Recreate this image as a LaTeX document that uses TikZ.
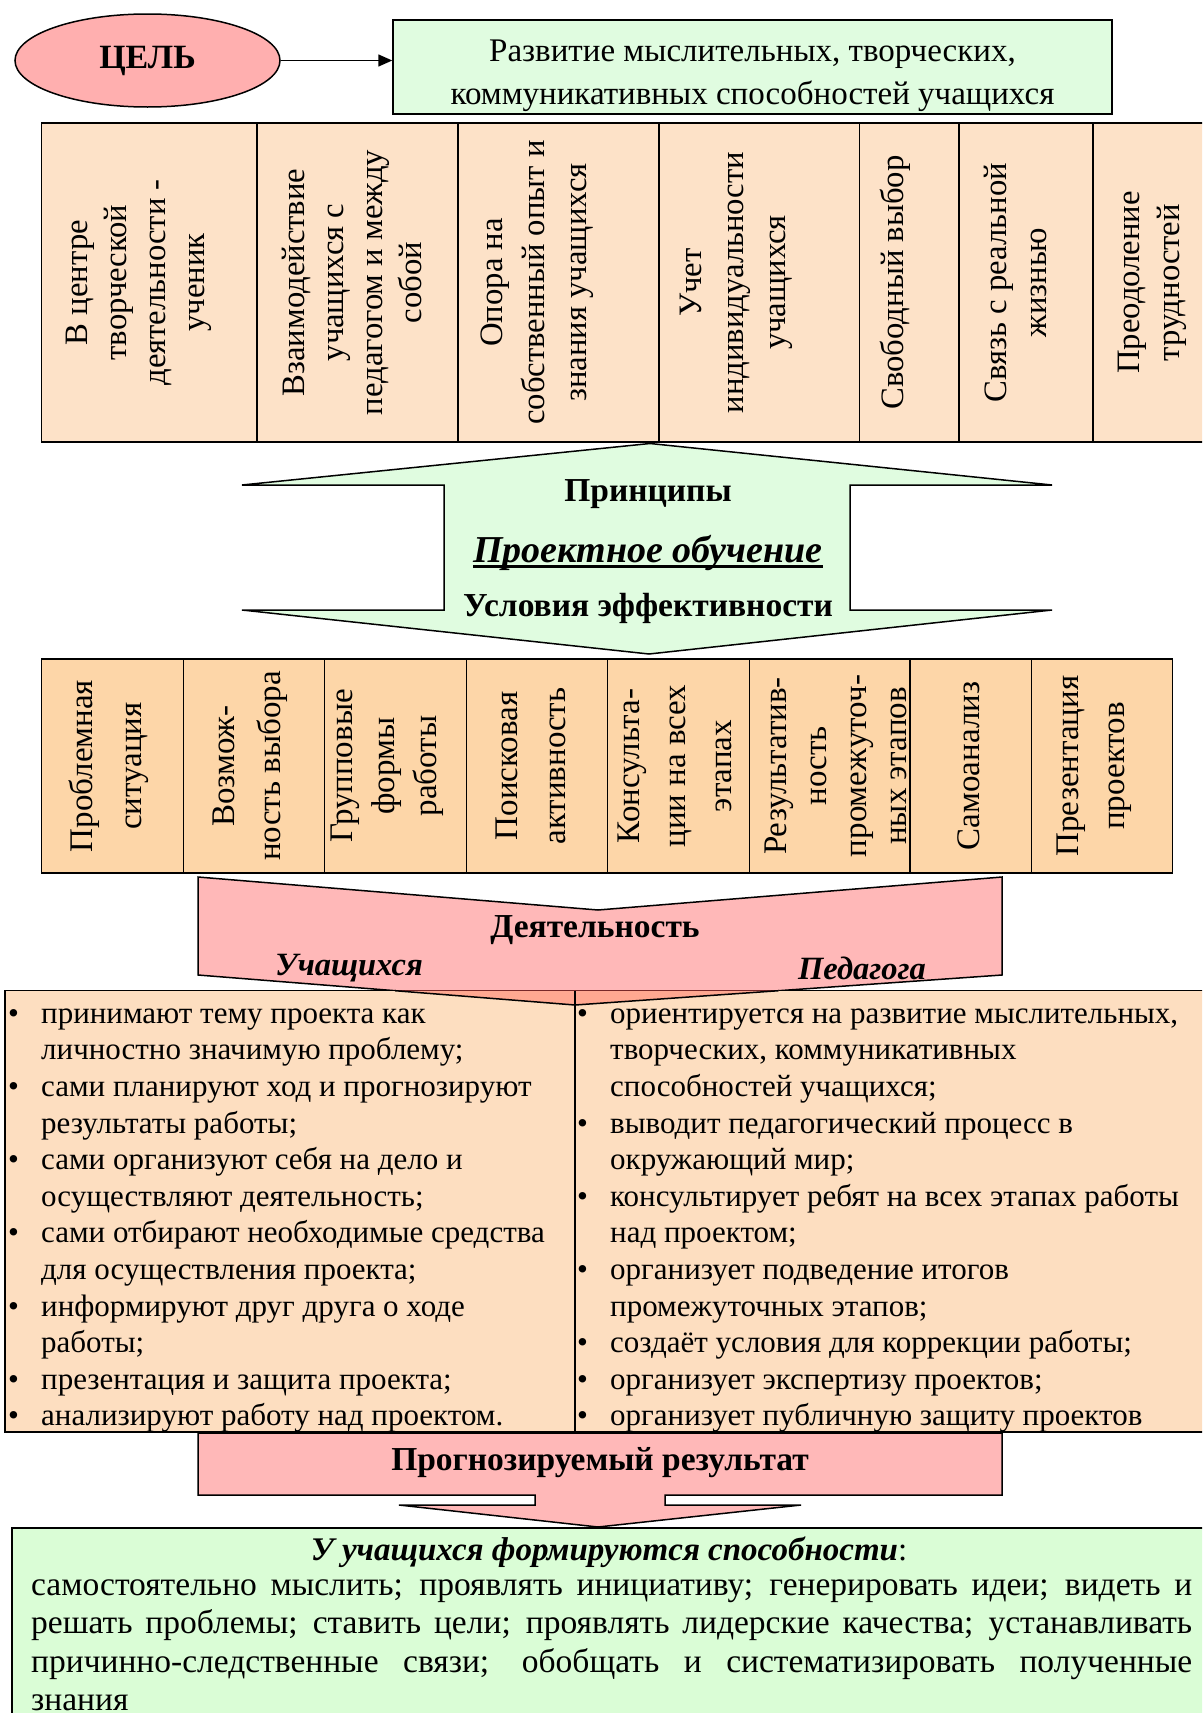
\documentclass[tikz,border=0pt]{standalone}
\usepackage{fontspec}
\setmainfont{Liberation Serif}
\usetikzlibrary{shapes.geometric,arrows.meta}
\definecolor{pinkA}{RGB}{255,184,184}
\definecolor{pinkE}{RGB}{255,175,175}
\definecolor{greenA}{RGB}{224,252,224}
\definecolor{greenB}{RGB}{218,253,214}
\definecolor{peachP}{RGB}{253,226,200}
\definecolor{peachC}{RGB}{253,214,168}
\definecolor{peachL}{RGB}{253,222,192}
\definecolor{salmonX}{RGB}{255,168,145}
\definecolor{darkredX}{RGB}{120,40,40}
\newcommand{\bul}{\makebox[33pt][l]{•}}
\newcommand{\ind}{\hspace*{33pt}}
\begin{document}
\begin{tikzpicture}[x=1pt,y=-1pt,
  bd/.style={line width=1.5pt, draw=black},
  ptxt/.style={rotate=90, align=center, inner sep=0, font=\fontsize{32.7}{39}\selectfont},
  ctxt/.style={rotate=90, align=center, inner sep=0, font=\fontsize{33}{44}\selectfont},
  boldlbl/.style={inner sep=0, font=\fontsize{33.5}{38}\selectfont\bfseries},
  bilbl/.style={inner sep=0, font=\fontsize{32.5}{38}\selectfont\bfseries\itshape},
  listtxt/.style={inner sep=0, align=left, anchor=north west, font=\fontsize{31}{36.6}\selectfont}
]
\useasboundingbox (0,0) rectangle (1202,1713);
\clip (0,0) rectangle (1202,1713);

% goal
\node[bd, ellipse, fill=pinkE, minimum width=265pt, minimum height=93pt, inner sep=0,
      font=\fontsize{34}{38}\selectfont\bfseries] (goal) at (147.5,60.5) {ЦЕЛЬ};
\node[bd, fill=greenA, minimum width=719pt, minimum height=94pt, inner sep=0] (top) at (752.5,67) {};
\node[inner sep=0, align=center, font=\fontsize{33}{43}\selectfont] (toptext) at (752.5,75.5)
  {Развитие мыслительных, творческих,\\коммуникативных способностей учащихся};
\draw[bd, -{Triangle[length=14pt,width=12pt]}] (goal.east) -- (goal.east -| top.west);

% principles table
\draw[bd, fill=peachP] (41.5,123) rectangle (1230,442);
\foreach \x in {257,458,659,859.5,959,1093} \draw[bd] (\x,123) -- (\x,442);
\node[ptxt] (p1) at (138.5,282.5) {В центре\\творческой\\деятельности -\\ученик};
\node[ptxt] (p2) at (352,282.5) {Взаимодействие\\учащихся с\\педагогом и между\\собой};
\node[ptxt, font=\fontsize{32.7}{42}\selectfont] (p3) at (537.5,282.5) {Опора на\\собственный опыт и\\знания учащихся};
\node[ptxt, font=\fontsize{32.7}{42}\selectfont] (p4) at (736,282.5) {Учет\\индивидуальности\\учащихся};
\node[ptxt] (p5) at (895.6,282.5) {Свободный выбор};
\node[ptxt, font=\fontsize{32.7}{40}\selectfont] (p6) at (1015.5,282.5) {Связь с реальной\\жизнью};
\node[ptxt, font=\fontsize{32.7}{40}\selectfont] (p7) at (1152,282.5) {Преодоление\\трудностей};

% double arrow
\draw[bd, fill=greenA] (650,443.5) -- (1052,485) -- (850,485) -- (850,610) -- (1052,610) -- (649,654)
  -- (242,610) -- (444,610) -- (444,485) -- (242,485) -- cycle;
\node[boldlbl] (princ) at (648,494) {Принципы};
\node[inner sep=0, font=\fontsize{38}{44}\selectfont\bfseries\itshape] (proj) at (648,553) {Проектное обучение};
\draw[line width=2.5pt] ([yshift=-4pt]proj.base west) -- ([yshift=-4pt]proj.base east);
\node[boldlbl] (cond) at (648,608) {Условия эффективности};

% conditions table
\draw[bd, fill=peachC] (41.5,659) rectangle (1172.5,873);
\foreach \x in {183.6,324.5,466.6,607.5,749.6,910,1031.5} \draw[bd] (\x,659) -- (\x,873);
\node[ctxt, font=\fontsize{33}{49}\selectfont] (c1) at (109,766) {Проблемная\\ситуация};
\node[ctxt, font=\fontsize{33}{46}\selectfont] (c2) at (250,766) {Возмож-\\ность выбора};
\node[ctxt, font=\fontsize{33}{42}\selectfont] (c3) at (387,766) {Групповые\\формы\\работы};
\node[ctxt, font=\fontsize{33}{48}\selectfont] (c4) at (531,766) {Поисковая\\активность};
\node[ctxt, font=\fontsize{33}{46}\selectfont] (c5) at (675,766) {Консульта-\\ции на всех\\этапах};
\node[ctxt, font=\fontsize{33}{40}\selectfont] (c6) at (836,766) {Результатив-\\ность\\промежуточ-\\ных этапов};
\node[ctxt] (c7) at (968.5,766) {Самоанализ};
\node[ctxt, font=\fontsize{33}{46}\selectfont] (c8) at (1094,766) {Презентация\\проектов};

% activity arrow
\draw[bd, fill=pinkA] (198,877) -- (598,910) -- (1002,877) -- (1002,975) -- (575,1005) -- (198,975) -- cycle;
\node[boldlbl] (act) at (595,930) {Деятельность};
\node[bilbl] (stu) at (349,968) {Учащихся};
\node[bilbl] (ped) at (862,968) {Педагога};

% lists
\draw[bd, fill=peachL] (5,990.7) rectangle (1230,1432);
\draw[bd] (575,990.7) -- (575,1432);
\node[listtxt] (lstud) at (8,997.5) {\strut\bul принимают тему проекта как\\
\ind личностно значимую проблему;\\
\bul сами планируют ход и прогнозируют\\
\ind результаты работы;\\
\bul сами организуют себя на дело и\\
\ind осуществляют деятельность;\\
\bul сами отбирают необходимые средства\\
\ind для осуществления проекта;\\
\bul информируют друг друга о ходе\\
\ind работы;\\
\bul презентация и защита проекта;\\
\bul анализируют работу над проектом.};
\node[listtxt] (lped) at (577,997.5) {\strut\bul ориентируется на развитие мыслительных,\\
\ind творческих, коммуникативных\\
\ind способностей учащихся;\\
\bul выводит педагогический процесс в\\
\ind окружающий мир;\\
\bul консультирует ребят на всех этапах работы\\
\ind над проектом;\\
\bul организует подведение итогов\\
\ind промежуточных этапов;\\
\bul создаёт условия для коррекции работы;\\
\bul организует экспертизу проектов;\\
\bul организует публичную защиту проектов};
% overlap of the arrow tip with the list box
\fill[salmonX] (395,990.7) -- (575,1005) -- (778.6,990.7) -- cycle;
\draw[line width=1.5pt, draw=darkredX] (395,990.7) -- (778.6,990.7);
\draw[bd] (395,990.7) -- (575,1005) -- (778.6,990.7);
\draw[bd] (575,990.7) -- (575,1005);

% result arrow
\draw[bd, fill=pinkA] (198,1433) -- (1002,1433) -- (1002,1495) -- (665,1495) -- (665,1505) -- (801,1505)
  -- (598,1527) -- (399,1505) -- (535,1505) -- (535,1495) -- (198,1495) -- cycle;
\node[boldlbl] (prog) at (600,1463) {Прогнозируемый результат};

% bottom box
\draw[bd, fill=greenB] (12,1528) rectangle (1230,1730);
\node[inner sep=0, font=\fontsize{33}{38}\selectfont] (form) at (609,1552)
  {\textbf{\textit{У учащихся формируются способности}}:};
\node[inner sep=0, align=left, anchor=north west, font=\fontsize{33.5}{38.5}\selectfont] (abil) at (31,1568)
  {\strut\makebox[1161pt][s]{самостоятельно мыслить; проявлять инициативу; генерировать идеи; видеть и}\\
   \makebox[1161pt][s]{решать проблемы; ставить цели; проявлять лидерские качества; устанавливать}\\
   \makebox[1161pt][s]{причинно-следственные связи; обобщать и систематизировать полученные}\\
   знания};
\end{tikzpicture}
\end{document}
